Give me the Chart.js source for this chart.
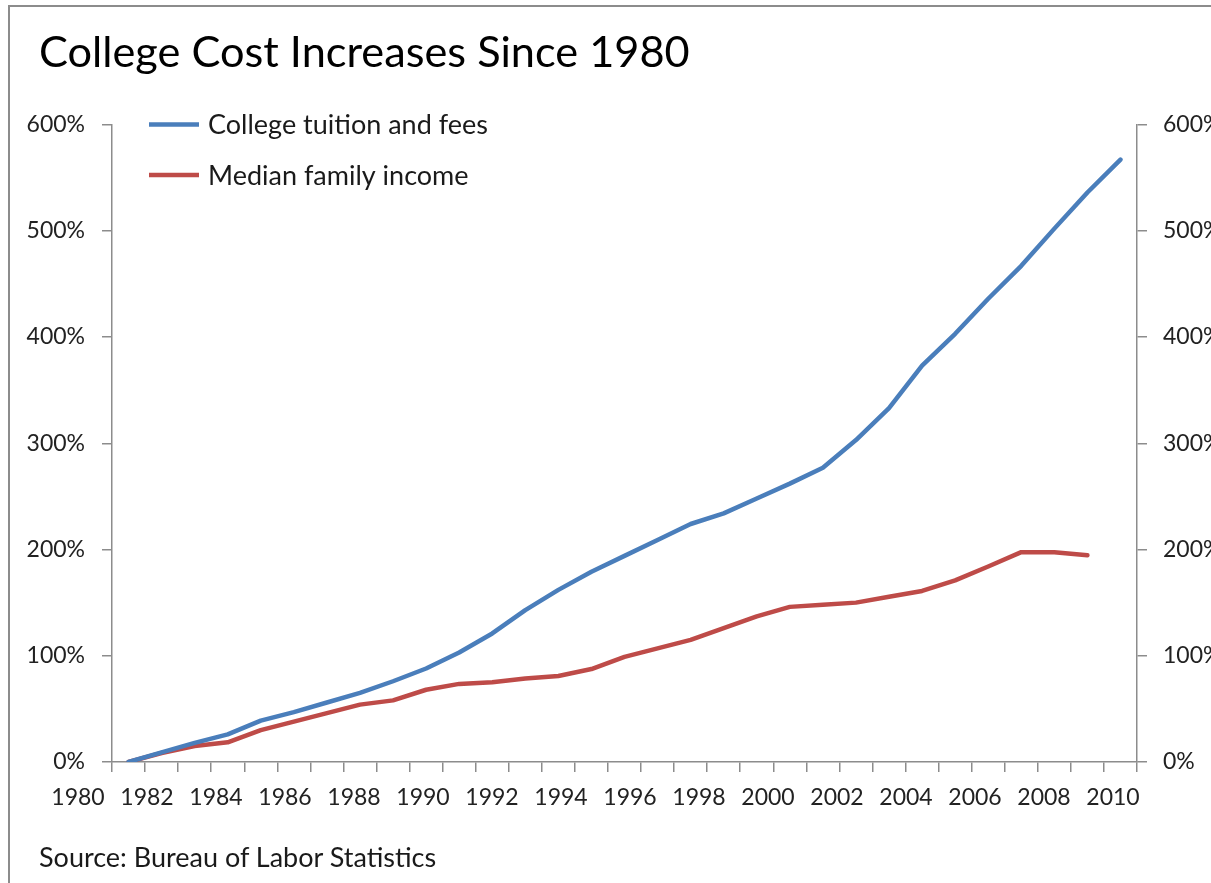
<!DOCTYPE html>
<html>
<head>
<meta charset="utf-8">
<title>College Cost Increases Since 1980</title>
<script src="https://cdn.jsdelivr.net/npm/chart.js@4.4.1/dist/chart.umd.min.js"></script>
<style>
  html, body { margin: 0; padding: 0; background: #fff; overflow: hidden; }
  #frame {
    position: absolute; left: 8px; top: 5px; width: 1300px; height: 1000px;
    border: 2px solid #8c8c8c;
  }
  #wrap { position: absolute; left: 0; top: 0; width: 1211px; height: 883px; }
  .txt { position: absolute; font-family: Lato, "DejaVu Sans", sans-serif; line-height: 1; white-space: nowrap; }
  #title { left: 39px; top: 29px; font-size: 43.3px; color: #000; }
  #source { left: 39px; top: 843px; font-size: 27px; color: #1a1a1a; }
</style>
</head>
<body>
<div id="frame"></div>
<div id="wrap"><canvas id="chart"></canvas></div>
<div id="title" class="txt">College Cost Increases Since 1980</div>
<div id="source" class="txt">Source: Bureau of Labor Statistics</div>
<script>
// years on the category axis
const years = [
  1980, 1981, 1982, 1983, 1984, 1985, 1986, 1987, 1988, 1989,
  1990, 1991, 1992, 1993, 1994, 1995, 1996, 1997, 1998, 1999,
  2000, 2001, 2002, 2003, 2004, 2005, 2006, 2007, 2008, 2009, 2010
];
// % increase since 1980
const tuition = [
  0, 9, 18, 26, 39, 47, 56, 65, 76, 88,
  103, 121, 143, 162, 179, 194, 209, 224, 234, 248,
  262, 277, 303, 333, 373, 403, 436, 467, 502, 536, 567
];
const income = [
  0, 8.5, 15, 18.5, 30, 38, 46, 54, 58, 68,
  73.5, 75, 78.5, 81, 87.5, 99, 107, 115, 126, 137,
  146, 148, 150, 155.5, 161, 171, 184, 197.5, 197.5, 194.5
];
const yearLabels = [1980, 1982, 1984, 1986, 1988, 1990, 1992, 1994, 1996, 1998, 2000, 2002, 2004, 2006, 2008, 2010];
const pctTicks = [0, 100, 200, 300, 400, 500, 600];

const FONT = "Lato, 'DejaVu Sans', sans-serif";
const AXIS = "#8c8c8c";

// legend drawn as a column in the top-left of the plot area
const columnLegend = {
  id: "columnLegend",
  afterDatasetsDraw(chart) {
    const ctx = chart.ctx;
    const area = chart.chartArea;
    ctx.save();
    ctx.font = "27px " + FONT;
    ctx.textBaseline = "middle";
    ctx.textAlign = "left";
    chart.data.datasets.forEach((ds, i) => {
      const y = area.top + i * 50.5;
      const x0 = area.left + 37;
      ctx.strokeStyle = ds.borderColor;
      ctx.lineWidth = 4.5;
      ctx.beginPath();
      ctx.moveTo(x0, y);
      ctx.lineTo(x0 + 50, y);
      ctx.stroke();
      ctx.fillStyle = "#1a1a1a";
      ctx.fillText(ds.label, x0 + 59, y + 1);
    });
    ctx.restore();
  },
};

const pctAxis = (position, pad) => ({
  type: "linear",
  position: position,
  min: 0,
  max: 600,
  afterBuildTicks: (s) => { s.ticks = pctTicks.map((v) => ({ value: v })); },
  afterFit: (s) => { s.width = position === "left" ? 112 : 74; },
  ticks: {
    color: "#222",
    font: { family: FONT, size: 23 },
    padding: pad,
    callback: (v) => v + "%",
  },
  grid: { drawOnChartArea: false, tickLength: 10, color: AXIS, lineWidth: 1.5 },
  border: { color: AXIS, width: 1.5 },
});

const ctx = document.getElementById("chart").getContext("2d");
new Chart(ctx, {
  type: "line",
  data: {
    datasets: [
      {
        label: "College tuition and fees",
        data: years.map((yr, i) => ({ x: yr, y: tuition[i] })),
        borderColor: "#4a7ebb",
        xAxisID: "x",
        yAxisID: "y",
      },
      {
        label: "Median family income",
        data: income.map((v, i) => ({ x: years[i], y: v })),
        borderColor: "#be4b48",
        xAxisID: "x",
        yAxisID: "y",
      },
    ],
  },
  options: {
    responsive: true,
    maintainAspectRatio: false,
    animation: false,
    layout: { padding: { left: 0, right: 0, top: 124.5, bottom: 61 } },
    elements: {
      point: { radius: 0 },
      line: { tension: 0, borderWidth: 4.5, borderCapStyle: "round", borderJoinStyle: "round" },
    },
    scales: {
      x: {
        type: "linear",
        position: "bottom",
        weight: 0,
        min: 1979.5,
        max: 2010.5,
        // tick marks fall between the years, like a category axis
        afterBuildTicks: (s) => { s.ticks = years.concat([2011]).map((yr) => ({ value: yr - 0.5 })); },
        afterFit: (s) => { s.height = 10; },
        ticks: { display: false },
        grid: { drawOnChartArea: false, tickLength: 10, color: AXIS, lineWidth: 1.5 },
        border: { color: AXIS, width: 1.5 },
      },
      xl: {
        type: "linear",
        position: "bottom",
        weight: 1,
        min: 1980.986,
        max: 2010.696,
        afterBuildTicks: (s) => { s.ticks = yearLabels.map((yr) => ({ value: yr })); },
        afterFit: (s) => { s.height = 50; },
        ticks: {
          autoSkip: false,
          maxRotation: 0,
          color: "#222",
          padding: 11.5,
          font: { family: FONT, size: 23 },
          callback: (v) => String(v),
        },
        grid: { display: false, drawTicks: false },
        border: { display: false },
      },
      y: pctAxis("left", 17),
      y2: pctAxis("right", 16),
    },
    plugins: {
      legend: { display: false },
      tooltip: { enabled: false },
    },
  },
  plugins: [columnLegend],
});
</script>
</body>
</html>
